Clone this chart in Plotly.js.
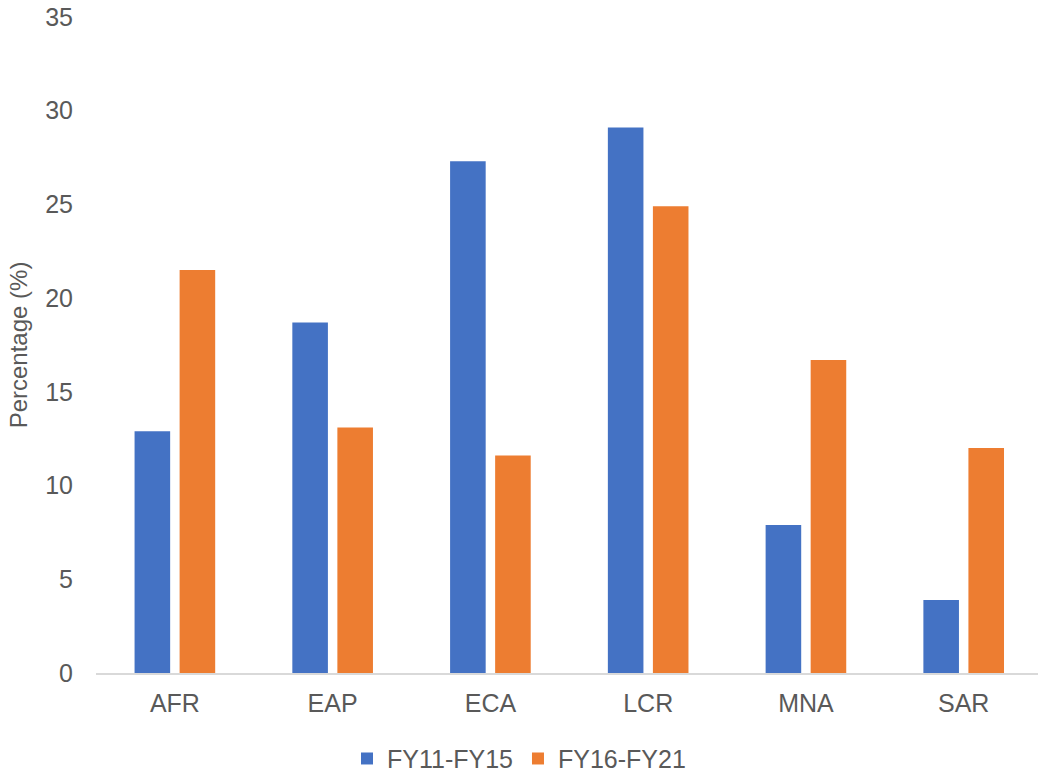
<!DOCTYPE html>
<html>
<head>
<meta charset="utf-8">
<script src="https://cdn.plot.ly/plotly-3.0.1.min.js"></script>
<style>
  html, body { margin: 0; padding: 0; background: #ffffff; }
  #chart { width: 1038px; height: 775px; }
</style>
</head>
<body>
<div id="chart"></div>
<script>
// Regions on the category axis
const regions = ['AFR', 'EAP', 'ECA', 'LCR', 'MNA', 'SAR'];

// Share (%) per region for each period
const fy11to15 = [12.9, 18.7, 27.3, 29.1, 7.9, 3.9];
const fy16to21 = [21.5, 13.1, 11.6, 24.9, 16.7, 12.0];

// Series names shown in the legend
const seriesNames = ['FY11-FY15', 'FY16-FY21'];

const textColor = '#595959';
const fontFamily = 'Liberation Sans, Arial, sans-serif';

const traces = [
  {
    type: 'bar',
    name: seriesNames[0],
    x: regions,
    y: fy11to15,
    marker: { color: '#4472C4' },
    hoverinfo: 'x+y+name'
  },
  {
    type: 'bar',
    name: seriesNames[1],
    x: regions,
    y: fy16to21,
    marker: { color: '#ED7D31' },
    hoverinfo: 'x+y+name'
  }
];

const layout = {
  width: 1038,
  height: 775,
  margin: { l: 96, r: 0, t: 17, b: 102 },
  paper_bgcolor: '#ffffff',
  plot_bgcolor: '#ffffff',
  font: { family: fontFamily, size: 25, color: textColor },
  barmode: 'group',
  bargap: 0.429,
  bargroupgap: 0.21,
  showlegend: true,
  legend: {
    orientation: 'h',
    xref: 'container',
    x: 0.5,
    xanchor: 'center',
    yref: 'container',
    y: 0.021,
    yanchor: 'middle',
    font: { family: fontFamily, size: 25, color: textColor },
    itemwidth: 30,
    traceorder: 'normal'
  },
  xaxis: {
    type: 'category',
    range: [-0.5, 5.471],
    showgrid: false,
    zeroline: false,
    showline: true,
    linecolor: '#D9D9D9',
    linewidth: 1.5,
    ticks: '',
    ticklabelstandoff: 7,
    tickfont: { family: fontFamily, size: 25, color: textColor },
    fixedrange: true
  },
  yaxis: {
    range: [0, 35],
    dtick: 5,
    tick0: 0,
    showgrid: false,
    zeroline: false,
    showline: false,
    ticks: '',
    ticklabelstandoff: 22,
    tickfont: { family: fontFamily, size: 25, color: textColor },
    title: {
      text: 'Percentage (%)',
      font: { family: fontFamily, size: 24, color: textColor },
      standoff: 10
    },
    fixedrange: true
  }
};

Plotly.newPlot('chart', traces, layout, { displayModeBar: false, staticPlot: true });
</script>
</body>
</html>
